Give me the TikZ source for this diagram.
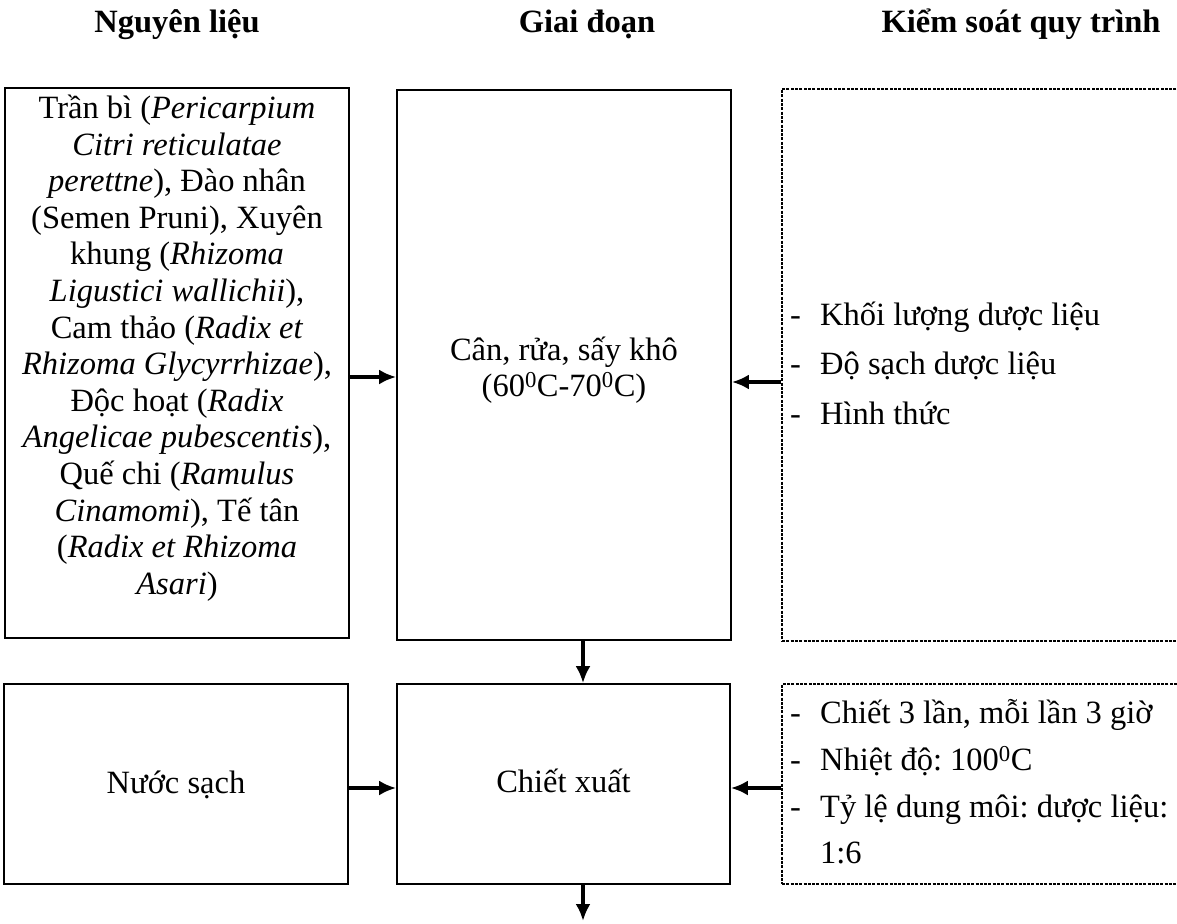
\documentclass[tikz,border=0pt]{standalone}
\usepackage{fontspec}
\setmainfont{Liberation Serif}
\usetikzlibrary{arrows.meta,calc}
\newcommand\dl{\makebox[30pt][l]{-}}
\frenchspacing
\begin{document}
\begin{tikzpicture}[x=1pt,y=-1pt,
  box/.style={draw=black,line width=1.7pt,rectangle,inner sep=0pt},
  dbox/.style={draw=black,line width=1.5pt,dash pattern=on 3pt off 1.3pt,rectangle,inner sep=0pt},
  txt/.style={font=\fontsize{32.5}{36.6}\selectfont,inner sep=0pt,align=center},
  hdr/.style={font=\fontsize{32.5}{36.6}\selectfont\bfseries,inner sep=0pt,anchor=base},
  arr/.style={line width=3.4pt,-{Latex[length=17pt,width=15pt]}}]
\useasboundingbox[fill=white] (0,0) rectangle (1177,923);
\begin{scope}
\clip (0,0) rectangle (1177,923);
% headers
\node[hdr] (h1) at (177,33) {Nguyên liệu};
\node[hdr] (h2) at (587,33) {Giai đoạn};
\node[hdr] (h3) at (1021,33) {Kiểm soát quy trình};
% boxes
\node[box,minimum width=344pt,minimum height=550pt] (a1) at (177,363) {};
\node[box,minimum width=334pt,minimum height=550pt] (b1) at (564,365) {};
\node[dbox,minimum width=420pt,minimum height=552pt] (c1) at (992,365) {};
\node[box,minimum width=344pt,minimum height=200pt] (a2) at (176,784) {};
\node[box,minimum width=333pt,minimum height=200pt] (b2) at (563.5,784) {};
\node[dbox,minimum width=420pt,minimum height=200pt] (c2) at (992,784) {};
% texts
\node[txt] (a1t) at (177,348) {Trần bì (\textit{Pericarpium}\\
\textit{Citri reticulatae}\\
\textit{perettne}), Đào nhân\\
(Semen Pruni), Xuyên\\
khung (\textit{Rhizoma}\\
\textit{Ligustici wallichii}),\\
Cam thảo (\textit{Radix et}\\
\textit{Rhizoma Glycyrrhizae}),\\
Độc hoạt (\textit{Radix}\\
\textit{Angelicae pubescentis}),\\
Quế chi (\textit{Ramulus}\\
\textit{Cinamomi}), Tế tân\\
(\textit{Radix et Rhizoma}\\
\textit{Asari})};
\node[txt] (b1t) at (564,370) {Cân, rửa, sấy khô\\(60\textsuperscript{0}C-70\textsuperscript{0}C)};
\node[txt,anchor=base] (a2t) at (176,793) {Nước sạch};
\node[txt,anchor=base] (b2t) at (563.5,792) {Chiết xuất};
\node[txt,align=left,anchor=west,font=\fontsize{32.5}{49.5}\selectfont] (c1t) at (790,363)
  {\dl Khối lượng dược liệu\\ \dl Độ sạch dược liệu\\ \dl Hình thức};
\node[txt,align=left,anchor=west,font=\fontsize{32.5}{46.7}\selectfont] (c2t) at (790,782)
  {\dl Chiết 3 lần, mỗi lần 3 giờ\\ \dl Nhiệt độ: 100\textsuperscript{0}C\\ \dl Tỷ lệ dung môi: dược liệu:\\ \hspace*{30pt}1:6};
% connectors
\draw[arr] ([yshift=-14pt]a1.east) -- ([yshift=-14pt]a1.east -| b1.west);
\draw[arr] ([yshift=-17pt]c1.west) -- ([yshift=-17pt]c1.west -| b1.east);
\draw[arr] ([xshift=19pt]b1.south) -- ([xshift=19pt]b1.south |- b2.north);
\draw[arr] ([yshift=-4pt]a2.east) -- ([yshift=-4pt]a2.east -| b2.west);
\draw[arr] ([yshift=-4pt]c2.west) -- ([yshift=-4pt]c2.west -| b2.east);
\coordinate (out) at (583,921);
\draw[arr] ([xshift=19.5pt]b2.south) -- (out);
\end{scope}
\end{tikzpicture}
\end{document}
